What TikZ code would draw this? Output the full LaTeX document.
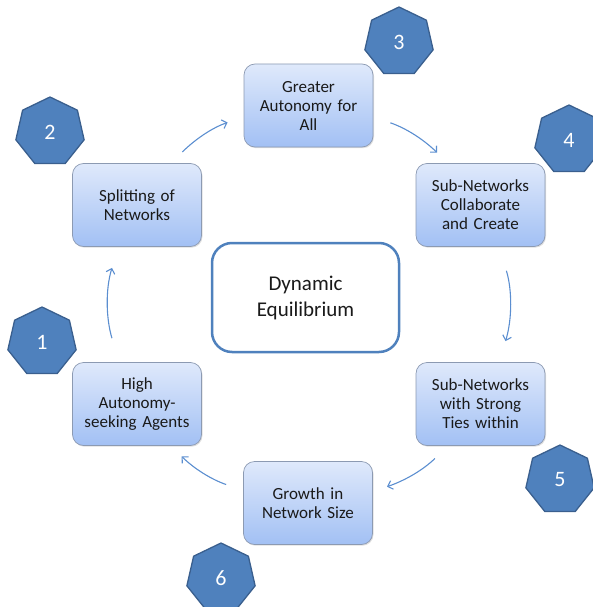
\documentclass[tikz,border=0pt]{standalone}
\usepackage{fontspec}
\setmainfont{Carlito}
\usetikzlibrary{shapes.geometric,arrows.meta,shadows}
\definecolor{boxtop}{HTML}{DFE9FB}
\definecolor{boxbot}{HTML}{A2C0F4}
\definecolor{boxline}{HTML}{8C9AB2}
\definecolor{hepfill}{HTML}{4F81BD}
\definecolor{hepline}{HTML}{3A5F8E}
\definecolor{arrcol}{HTML}{5B8ED0}
\definecolor{txt}{HTML}{1A1A1A}
\tikzset{
  stepbox/.style={rectangle, rounded corners=11pt, draw=boxline, line width=0.7pt,
    top color=boxtop, bottom color=boxbot, minimum width=129pt, minimum height=83pt,
    inner sep=0pt, text width=122pt, align=center, text=txt,
    font=\fontsize{17}{19}\selectfont,
    drop shadow={opacity=0.25, shadow xshift=1pt, shadow yshift=-1.2pt}},
  centerbox/.style={rectangle, rounded corners=20pt, draw=hepfill, line width=2.5pt,
    fill=white, minimum width=187pt, minimum height=109pt, inner sep=0pt,
    text width=170pt, align=center, text=txt, font=\fontsize{21}{26}\selectfont},
  hept/.style={regular polygon, regular polygon sides=7, minimum size=70pt, inner sep=0pt,
    fill=hepfill, draw=hepline, line width=1.3pt, text=white,
    font=\fontsize{22}{26}\selectfont},
  arr/.style={draw=arrcol, line width=1.1pt, -{Straight Barb[length=4.5pt,width=9pt]}},
}
\begin{document}
\begin{tikzpicture}[x=1pt,y=-1pt]
\useasboundingbox (0,0) rectangle (593,607);
\clip (0,0) rectangle (593,607);
% central box
\node[centerbox] (eq) at (305.5,297.5) {Dynamic\\Equilibrium};
% step boxes
\node[stepbox] (greater) at (308.5,105.5) {Greater\\Autonomy for\\All};
\node[stepbox] (split) at (137,205) {Splitting of\\Networks};
\node[stepbox] (collab) at (480.5,205) {Sub-Networks\\Collaborate\\and Create};
\node[stepbox] (high) at (137,404) {High\\Autonomy-\\seeking Agents};
\node[stepbox] (strong) at (480.5,404) {Sub-Networks\\with Strong\\Ties within};
\node[stepbox] (growth) at (308,503) {Growth in\\Network Size};
% heptagons
\node[hept] (h1) at (42,342) {1};
\node[hept] (h2) at (50,132) {2};
\node[hept] (h3) at (399,42) {3};
\node[hept] (h4) at (569,140) {4};
\node[hept] (h5) at (560,480) {5};
\node[hept] (h6) at (221,578) {6};
% connectors (arcs of the cycle)
\draw[arr, shorten <=16pt, shorten >=17pt] (split.51.8) to[out=44.4, in=199] (greater.190.4);
\draw[arr, shorten <=18pt, shorten >=15pt] (greater.-10.4) to[out=-19, in=135.6] (collab.128.2);
\draw[arr, shorten <=25pt, shorten >=22pt] (collab.-66.8) to[out=-73.1, in=73.1] (strong.66.8);
\draw[arr, shorten <=18pt, shorten >=15pt] (strong.-128.2) to[out=-135.6, in=19] (growth.10.4);
\draw[arr, shorten <=18pt, shorten >=15pt] (growth.169.6) to[out=161, in=-44.4] (high.-51.8);
\draw[arr, shorten <=25pt, shorten >=22pt] (high.113.2) to[out=106.9, in=253.1] (split.246.8);
\end{tikzpicture}
\end{document}
